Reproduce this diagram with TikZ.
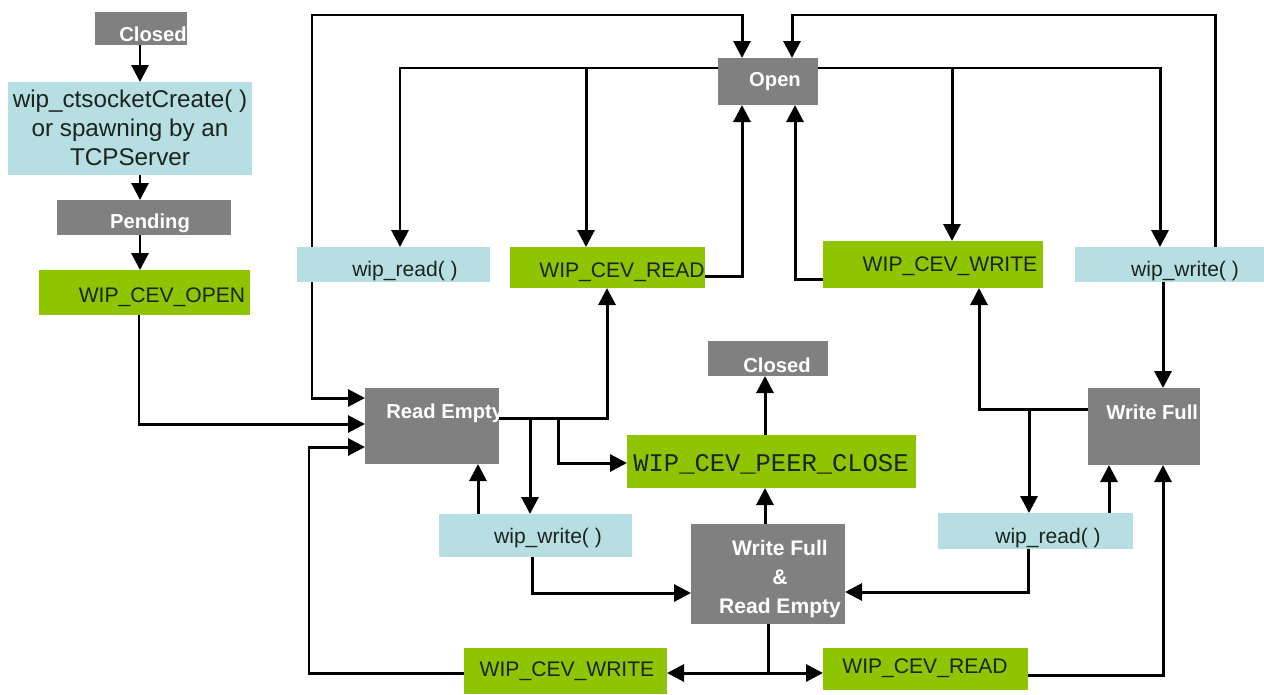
\documentclass[tikz,border=0pt]{standalone}
\usepackage{fontspec}
\setmainfont{Liberation Sans}
\newfontfamily\monofont{Liberation Mono}
\usetikzlibrary{arrows.meta}
\definecolor{boxgray}{RGB}{128,128,128}
\definecolor{boxblue}{RGB}{183,222,227}
\definecolor{boxgreen}{RGB}{142,196,0}
\definecolor{txtdark}{RGB}{28,36,28}
\newcommand\boxat[6]{\node[#2, anchor=north west, minimum width={(#5-#3)*0.02cm}, minimum height={(#6-#4)*0.02cm}] (#1) at (#3,#4) {};}
\begin{document}
\begin{tikzpicture}[x=0.02cm,y=-0.02cm,
  box/.style={draw=none, inner sep=0pt, outer sep=0pt},
  gbox/.style={box, fill=boxgray},
  bbox/.style={box, fill=boxblue},
  ebox/.style={box, fill=boxgreen},
  st/.style={text=white, font=\fontsize{11.5}{13}\selectfont\bfseries, inner sep=0pt},
  lt/.style={text=txtdark, font=\fontsize{12}{14}\selectfont, inner sep=0pt},
  mt/.style={text=txtdark, font=\fontsize{14.5}{16}\selectfont\monofont, inner sep=0pt},
  wire/.style={line width=1.7pt},
  conn/.style={wire, -{Triangle[length=0.34cm,width=0.34cm]}}]
\useasboundingbox (0,0) rectangle (1264,694);
\fill[white] (0,0) rectangle (1264,694);
% boxes
\boxat{closedA}{gbox}{95}{12}{187}{45}
\boxat{create}{bbox}{8}{82}{252}{175}
\boxat{pending}{gbox}{57}{200}{231}{235}
\boxat{openev}{ebox}{39}{270}{250}{315}
\boxat{open}{gbox}{718}{58}{818}{105}
\boxat{rdA}{bbox}{297}{247}{490}{282}
\boxat{crA}{ebox}{510}{247}{705}{288}
\boxat{cwA}{ebox}{823}{241}{1043}{288}
\boxat{wwA}{bbox}{1075}{247}{1264}{282}
\boxat{closedB}{gbox}{708}{341}{828}{376}
\boxat{re}{gbox}{365}{388}{499}{464}
\boxat{pc}{ebox}{627}{435}{916}{488}
\boxat{wf}{gbox}{1088}{388}{1200}{465}
\boxat{wwB}{bbox}{439}{514}{632}{557}
\boxat{wfre}{gbox}{691}{524}{845}{624}
\boxat{rdB}{bbox}{938}{513}{1133}{549}
\boxat{cwB}{ebox}{464}{648}{667}{694}
\boxat{crB}{ebox}{823}{648}{1028}{690}
% texts
\node[st] (tclosedA) at (153,34) {Closed};
\node[lt, font=\fontsize{13.8}{16.5}\selectfont, align=center] (tcreate) at (130,128) {wip\_ctsocketCreate( )\\or spawning by an\\TCPServer};
\node[st] (tpending) at (150,223) {Pending};
\node[lt] (topenev) at (162,297) {WIP\_CEV\_OPEN};
\node[st] (topen) at (775,82) {Open};
\node[lt] (trdA) at (405,271) {wip\_read( )};
\node[lt] (tcrA) at (622,272) {WIP\_CEV\_READ};
\node[lt] (tcwA) at (950,266) {WIP\_CEV\_WRITE};
\node[lt] (twwA) at (1185,271) {wip\_write( )};
\node[st] (tclosedB) at (777,365) {Closed};
\node[st, anchor=west] (tre) at (386,413) {Read Empty};
\node[mt] (tpc) at (771,464) {WIP\_CEV\_PEER\_CLOSE};
\node[st, anchor=west] (twf) at (1106,412) {Write Full};
\node[lt] (twwB) at (548,538) {wip\_write( )};
\node[st, align=center, font=\fontsize{12}{16.5}\selectfont\bfseries] (twfre) at (780,579) {Write Full\\\&\\Read Empty};
\node[lt] (trdB) at (1048,538) {wip\_read( )};
\node[lt] (tcwB) at (567,671) {WIP\_CEV\_WRITE};
\node[lt] (tcrB) at (925,668) {WIP\_CEV\_READ};
% junctions
\coordinate (j1) at (586,68);
\coordinate (j2) at (952,68);
\coordinate (j3) at (530,418);
\coordinate (j4) at (558,418);
\coordinate (j5) at (768,673);
\coordinate (j6) at (1029,409);
% connectors
\draw[conn] (closedA.south -| 140,0) -- (create.north -| 140,0);
\draw[conn] (create.south -| 140,0) -- (pending.north -| 140,0);
\draw[conn] (pending.south -| 140,0) -- (openev.north -| 140,0);
\draw[conn] (openev.south -| 139,0) |- (re.west |- 0,424);
\draw[conn] (rdA.north -| 312,0) |- (742,15) -- (open.north -| 742,0);
\draw[conn] (rdA.south -| 312,0) |- (re.west |- 0,398);
\draw[conn] (open.west |- 0,68) -| (rdA.north -| 400,0);
\draw[conn] (j1) -- (crA.north -| 586,0);
\draw[conn] (open.east |- 0,68) -| (wwA.north -| 1160,0);
\draw[conn] (j2) -- (cwA.north -| 952,0);
\draw[conn] (crA.east |- 0,276) -| (open.south -| 742,0);
\draw[conn] (cwA.west |- 0,279) -| (open.south -| 795,0);
\draw[conn] (wwA.north -| 1215,0) |- (792,15) -- (open.north -| 792,0);
\draw[conn] (wwA.south -| 1163,0) -- (wf.north -| 1163,0);
\draw[conn] (re.east |- 0,418) -| (crA.south -| 607,0);
\draw[conn] (j3) -- (wwB.north -| 530,0);
\draw[conn] (j4) |- (pc.west |- 0,463);
\draw[conn] (wwB.north -| 478,0) -- (re.south -| 478,0);
\draw[conn] (wwB.south -| 532,0) |- (wfre.west |- 0,593);
\draw[conn] (wfre.north -| 765,0) -- (pc.south -| 765,0);
\draw[conn] (pc.north -| 765,0) -- (closedB.south -| 765,0);
\draw[wire] (wfre.south -| 768,0) -- (j5);
\draw[conn] (j5) -- (cwB.east |- 0,673);
\draw[conn] (j5) -- (crB.west |- 0,673);
\draw[conn] (cwB.west |- 0,673) -| (309,447) -- (re.west |- 0,447);
\draw[conn] (crB.east |- 0,675) -| (wf.south -| 1163,0);
\draw[conn] (wf.west |- 0,409) -| (cwA.south -| 979,0);
\draw[conn] (j6) -- (rdB.north -| 1029,0);
\draw[conn] (rdB.north -| 1109,0) -- (wf.south -| 1109,0);
\draw[conn] (rdB.south -| 1028,0) |- (wfre.east |- 0,592);
\end{tikzpicture}
\end{document}
